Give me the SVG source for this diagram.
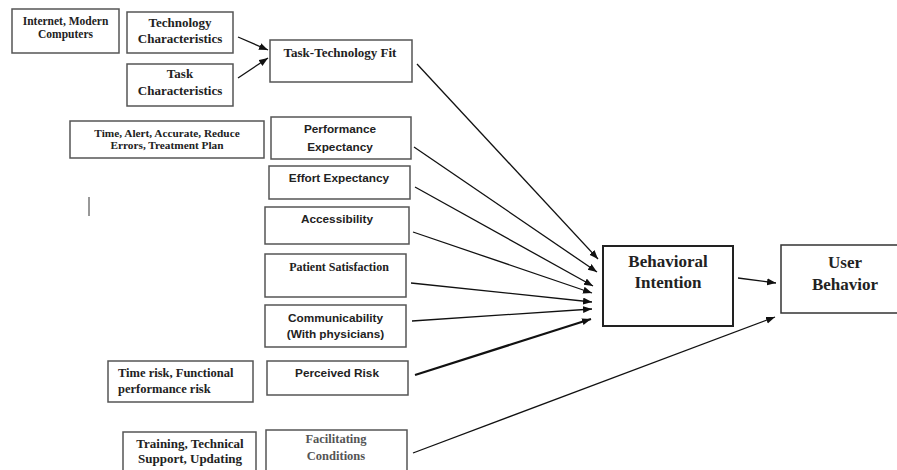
<svg xmlns="http://www.w3.org/2000/svg" width="897" height="470" viewBox="0 0 897 470">
<style>
.box{fill:#fff;stroke:#555;stroke-width:1.5}
.bold{fill:#fff;stroke:#222;stroke-width:2}
.ser{font-family:'Liberation Serif','DejaVu Serif',serif;font-weight:bold;fill:#222;text-anchor:middle}
.san{font-family:'Liberation Sans','DejaVu Sans',sans-serif;font-weight:bold;fill:#222;text-anchor:middle;font-size:11.8px}
.lft{text-anchor:start}
.gry{fill:#555}
.con line{stroke:#111;stroke-width:1.3;marker-end:url(#ah)}
</style>
<defs>
<marker id="ah" markerUnits="userSpaceOnUse" markerWidth="10" markerHeight="8" refX="9" refY="3.5" orient="auto">
<path d="M0,0 L9,3.5 L0,7 z" fill="#111"/>
</marker>
</defs>
<rect width="897" height="470" fill="#fff"/>
<line x1="89" y1="197" x2="89" y2="216" stroke="#333" stroke-width="1"/>
<g id="internet"><rect class="box" x="12" y="9" width="107" height="44"/>
<text class="ser" font-family="Liberation Serif" font-size="11.5" x="65.5" y="25">Internet, Modern</text>
<text class="ser" font-family="Liberation Serif" font-size="11.5" x="65.5" y="38">Computers</text></g>
<g id="tech"><rect class="box" x="127" y="12" width="106" height="41"/>
<text class="ser" font-family="Liberation Serif" font-size="13" x="180" y="27">Technology</text>
<text class="ser" font-family="Liberation Serif" font-size="13" x="180" y="43">Characteristics</text></g>
<g id="task"><rect class="box" x="127" y="64" width="106" height="42"/>
<text class="ser" font-family="Liberation Serif" font-size="13" x="180" y="78">Task</text>
<text class="ser" font-family="Liberation Serif" font-size="13" x="180" y="95">Characteristics</text></g>
<g id="ttf"><rect class="box" x="270" y="40" width="142" height="42"/>
<text class="ser" font-family="Liberation Serif" font-size="13" x="340" y="57">Task-Technology Fit</text></g>
<g id="timealert"><rect class="box" x="70" y="121" width="194" height="37"/>
<text class="ser" font-family="Liberation Serif" font-size="11.3" x="167" y="137">Time, Alert, Accurate, Reduce</text>
<text class="ser" font-family="Liberation Serif" font-size="11.3" x="167" y="149">Errors, Treatment Plan</text></g>
<g id="pe"><rect class="box" x="271" y="117" width="140" height="42"/>
<text class="san" x="340" y="133">Performance</text>
<text class="san" x="340" y="151">Expectancy</text></g>
<g id="ee"><rect class="box" x="269" y="166" width="141" height="33"/>
<text class="san" x="339" y="182">Effort Expectancy</text></g>
<g id="acc"><rect class="box" x="265" y="207" width="144" height="37"/>
<text class="san" x="337" y="223">Accessibility</text></g>
<g id="ps"><rect class="box" x="265" y="254" width="141" height="43"/>
<text class="ser" font-family="Liberation Serif" font-size="12" x="339" y="271">Patient Satisfaction</text></g>
<g id="comm"><rect class="box" x="265" y="305" width="141" height="42"/>
<text class="san" x="335.5" y="322">Communicability</text>
<text class="san" x="335.5" y="338">(With physicians)</text></g>
<g id="timerisk"><rect class="box" x="108" y="361" width="145" height="41"/>
<text class="ser lft" font-family="Liberation Serif" font-size="12.5" x="118" y="377">Time risk, Functional</text>
<text class="ser lft" font-family="Liberation Serif" font-size="12.5" x="118" y="393">performance risk</text></g>
<g id="pr"><rect class="box" x="267" y="361" width="141" height="34"/>
<text class="san" x="337" y="377">Perceived Risk</text></g>
<g id="training"><rect class="box" x="123" y="432" width="133" height="45"/>
<text class="ser" font-family="Liberation Serif" font-size="13" x="190" y="448">Training, Technical</text>
<text class="ser" font-family="Liberation Serif" font-size="13" x="190" y="463">Support, Updating</text></g>
<g id="fc"><rect class="box" x="266" y="430" width="141" height="45"/>
<text class="ser gry" font-family="Liberation Serif" font-size="12.5" x="336" y="443">Facilitating</text>
<text class="ser gry" font-family="Liberation Serif" font-size="12.5" x="336" y="460">Conditions</text></g>
<g id="bi"><rect class="bold" x="603" y="246" width="130" height="80"/>
<text class="ser" font-family="Liberation Serif" font-size="17" x="668" y="267">Behavioral</text>
<text class="ser" font-family="Liberation Serif" font-size="17" x="668" y="288">Intention</text></g>
<g id="ub"><rect class="box" x="781" y="245" width="130" height="68" style="stroke:#333"/>
<text class="ser" font-family="Liberation Serif" font-size="17" x="845" y="268">User</text>
<text class="ser" font-family="Liberation Serif" font-size="17" x="845" y="290">Behavior</text></g>
<g id="connectors" class="con">
<line x1="238" y1="37" x2="268" y2="50"/>
<line x1="238" y1="78" x2="268" y2="58"/>
<line x1="417" y1="64" x2="598" y2="259"/>
<line x1="414" y1="147" x2="597" y2="272"/>
<line x1="415" y1="187" x2="593" y2="286"/>
<line x1="413" y1="232" x2="592" y2="293"/>
<line x1="411" y1="283" x2="592" y2="302"/>
<line x1="412" y1="321" x2="592" y2="309"/>
<line x1="415" y1="375" x2="591" y2="319" style="stroke-width:2.2"/>
<line x1="413" y1="453" x2="775" y2="317"/>
<line x1="738" y1="278" x2="776" y2="283"/>
</g>
</svg>
